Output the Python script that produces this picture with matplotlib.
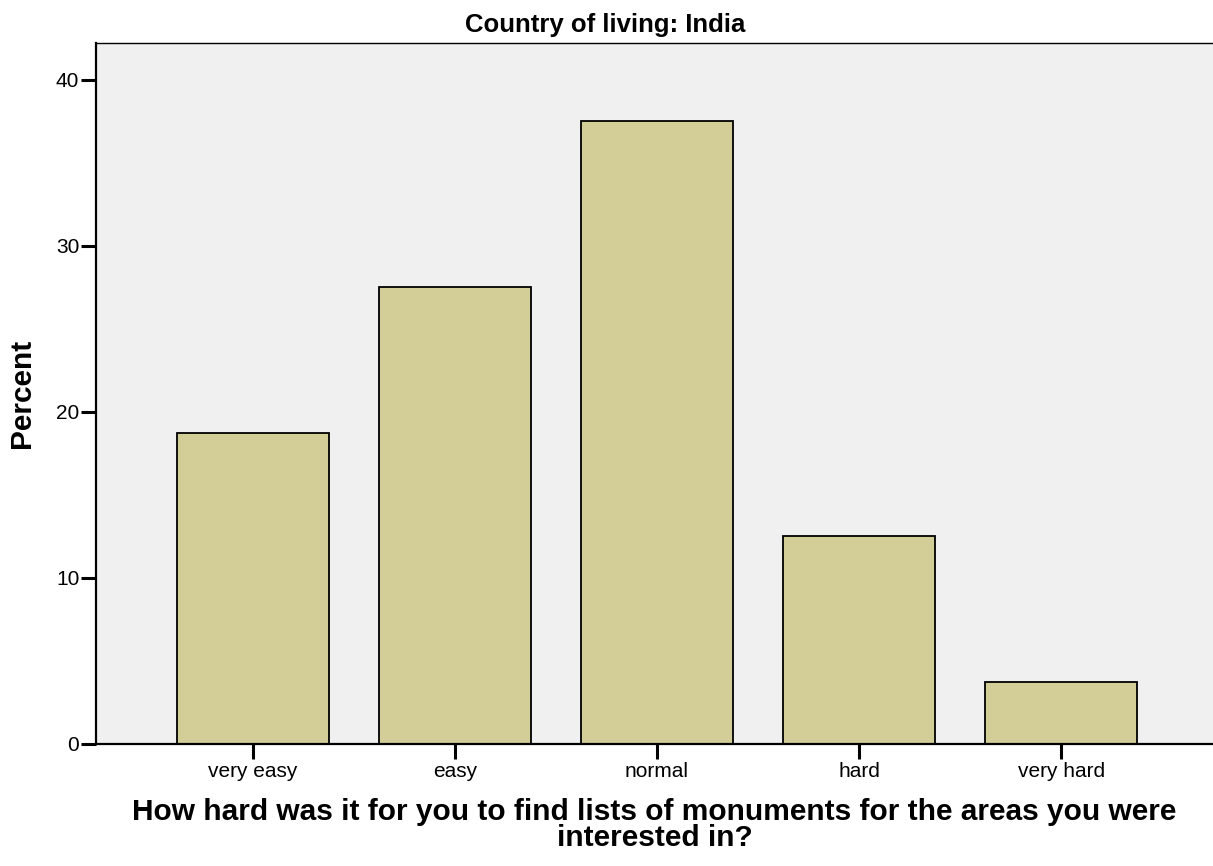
import matplotlib.pyplot as plt
import numpy as np

plt.rcParams['font.family'] = ['Liberation Sans', 'DejaVu Sans']

categories = ['very easy', 'easy', 'normal', 'hard', 'very hard']
percent = [18.75, 27.5, 37.5, 12.5, 3.75]
yticks = [0, 10, 20, 30, 40]

fig = plt.figure(figsize=(12.13, 8.66), dpi=100)
ax = fig.add_axes([0.0791, 0.1409, 0.9209, 0.8094])
ax.set_facecolor('#f0f0f0')

x = np.arange(len(categories))
ax.bar(x, percent, width=0.75, color='#d3ce98', edgecolor='black', linewidth=1.3, zorder=2)

ax.set_xlim(-0.777, 4.752)
ax.set_ylim(0, 42.2)
ax.set_xticks(x)
ax.set_xticklabels(categories, fontsize=15)
ax.set_yticks(yticks)
ax.set_yticklabels([str(v) for v in yticks], fontsize=15)
ax.tick_params(axis='both', direction='out', length=11, width=2.2)
ax.tick_params(axis='y', pad=1)
ax.tick_params(axis='x', pad=2)

ax.spines['right'].set_visible(False)
ax.spines['left'].set_linewidth(1.6)
ax.spines['bottom'].set_linewidth(1.6)
ax.spines['top'].set_linewidth(1.0)

# title sits centred on the whole figure, not on the axes
ax.set_title('Country of living: India', fontsize=18.5, fontweight='bold', pad=8, x=0.4557)
ax.set_ylabel('Percent', fontsize=21.5, fontweight='bold', labelpad=14)
ax.set_xlabel('How hard was it for you to find lists of monuments for the areas you were\ninterested in?',
              fontsize=21.5, fontweight='bold', labelpad=12, linespacing=0.92)

fig.savefig('out.png', dpi=100)
